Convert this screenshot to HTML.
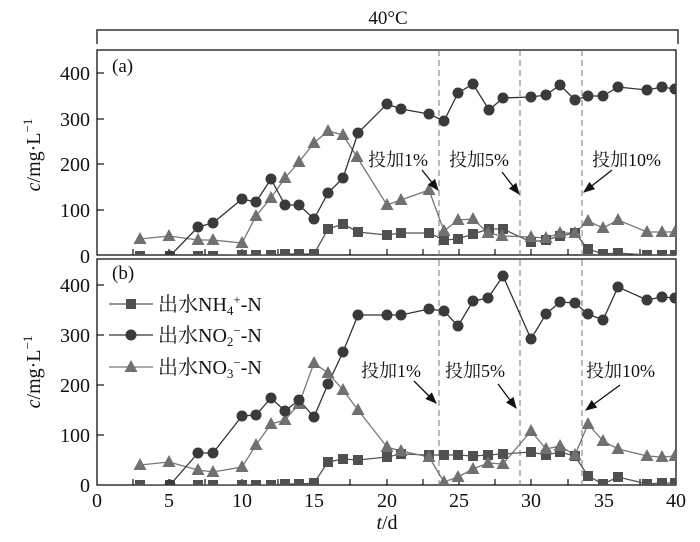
<!DOCTYPE html>
<html><head><meta charset="utf-8"><style>
html,body{margin:0;padding:0;background:#fff}
svg{display:block}
text{font-family:"Liberation Serif","Noto Serif CJK SC",serif;fill:#111}
</style></head><body>
<svg width="700" height="542" viewBox="0 0 700 542" xmlns="http://www.w3.org/2000/svg">
<defs>
<clipPath id="ca"><rect x="97" y="50" width="579" height="205"/></clipPath>
<clipPath id="cb"><rect x="97" y="259" width="579" height="226"/></clipPath>
<marker id="ar" viewBox="0 0 10 10" refX="9" refY="5" markerWidth="9" markerHeight="9" orient="auto"><path d="M0,1 L10,5 L0,9 z" fill="#111"/></marker>
</defs>
<path d="M97,44 V30 H678 V44" fill="none" stroke="#333" stroke-width="1.5"/>
<text x="388" y="24" font-size="19" text-anchor="middle">40°C</text>
<rect x="97" y="50" width="579" height="205" fill="none" stroke="#111" stroke-width="1.3"/>
<rect x="97" y="259" width="579" height="226" fill="none" stroke="#111" stroke-width="1.3"/>
<text x="112" y="72" font-size="19">(a)</text>
<text x="112" y="279" font-size="19">(b)</text>
<g stroke="#777" stroke-width="1" stroke-dasharray="6,4">
<line x1="439" y1="50" x2="439" y2="485"/><line x1="520" y1="50" x2="520" y2="485"/><line x1="582" y1="50" x2="582" y2="485"/>
</g>
<g stroke="#111" stroke-width="1.2">
<line x1="97" y1="73" x2="104" y2="73"/><line x1="97" y1="119" x2="104" y2="119"/><line x1="97" y1="164" x2="104" y2="164"/><line x1="97" y1="210" x2="104" y2="210"/>
<line x1="97" y1="285" x2="104" y2="285"/><line x1="97" y1="335" x2="104" y2="335"/><line x1="97" y1="385" x2="104" y2="385"/><line x1="97" y1="435" x2="104" y2="435"/>
</g>
<g font-size="20" text-anchor="end">
<text x="90" y="80">400</text><text x="90" y="126">300</text><text x="90" y="171">200</text><text x="90" y="217">100</text><text x="90" y="263">0</text>
<text x="90" y="292">400</text><text x="90" y="342">300</text><text x="90" y="392">200</text><text x="90" y="442">100</text><text x="90" y="492">0</text>
</g>
<g stroke="#111" stroke-width="1.2">
<path d="M133,255v-6M169,255v-6M205,255v-6M242,255v-6M278,255v-6M314,255v-6M350,255v-6M387,255v-6M423,255v-6M459,255v-6M495,255v-6M531,255v-6M568,255v-6M604,255v-6M640,255v-6"/>
<path d="M133,485v-6M169,485v-6M205,485v-6M242,485v-6M278,485v-6M314,485v-6M350,485v-6M387,485v-6M423,485v-6M459,485v-6M495,485v-6M531,485v-6M568,485v-6M604,485v-6M640,485v-6"/>
</g>
<g font-size="20" text-anchor="middle">
<text x="97" y="507">0</text><text x="169" y="507">5</text><text x="242" y="507">10</text><text x="314" y="507">15</text><text x="387" y="507">20</text><text x="459" y="507">25</text><text x="531" y="507">30</text><text x="604" y="507">35</text><text x="676" y="507">40</text>
<text x="387" y="529"><tspan font-style="italic">t</tspan>/d</text>
</g>
<text transform="translate(40,155) rotate(-90)" font-size="20" text-anchor="middle"><tspan font-style="italic">c</tspan>/mg·L<tspan dy="-8" font-size="13">−1</tspan></text>
<text transform="translate(40,372) rotate(-90)" font-size="20" text-anchor="middle"><tspan font-style="italic">c</tspan>/mg·L<tspan dy="-8" font-size="13">−1</tspan></text>

<g id="lines"></g>
<g id="marks"></g>

<g font-size="18">
<text x="368" y="166">投加1%</text><text x="449" y="166">投加5%</text><text x="592" y="166">投加10%</text>
<text x="361" y="377">投加1%</text><text x="445" y="377">投加5%</text><text x="586" y="377">投加10%</text>
</g>
<g stroke="#111" stroke-width="1.3" marker-end="url(#ar)">
<line x1="422" y1="170" x2="438" y2="190"/><line x1="502" y1="172" x2="519" y2="194"/><line x1="612" y1="170" x2="584" y2="192"/>
<line x1="414" y1="381" x2="436" y2="403"/><line x1="498" y1="384" x2="516" y2="408"/><line x1="620" y1="385" x2="586" y2="410"/>
</g>

<g stroke-width="1.3">
<line x1="109" y1="304" x2="153" y2="304" stroke="#555"/><rect x="126" y="299" width="10" height="10" fill="#505050"/>
<line x1="109" y1="335" x2="153" y2="335" stroke="#333"/><circle cx="131" cy="335" r="5.5" fill="#3a3a3a"/>
<line x1="109" y1="367" x2="153" y2="367" stroke="#777"/><path d="M131,360 L137.5,372 L124.5,372 Z" fill="#707070"/>
</g>
<g font-size="20">
<text x="158" y="311">出水NH<tspan font-size="13" dy="4">4</tspan><tspan font-size="13" dy="-11">+</tspan><tspan dy="7">-N</tspan></text>
<text x="158" y="342">出水NO<tspan font-size="13" dy="4">2</tspan><tspan font-size="13" dy="-11">−</tspan><tspan dy="7">-N</tspan></text>
<text x="158" y="374">出水NO<tspan font-size="13" dy="4">3</tspan><tspan font-size="13" dy="-11">−</tspan><tspan dy="7">-N</tspan></text>
</g>
</svg>
<script>
(function(){
var NS="http://www.w3.org/2000/svg";
function pts(s){return s.trim().split(/\s+/).map(function(p){return p.split(',').map(Number);});}
var A={sq:"140,256 170,256 198,256 213,256 242,255 256,255 271,255 285,254 299,254 314,254 328,229 343,224 358,232 387,235 401,233 429,233 444,240 458,239 473,234 489,229 503,229 531,242 546,240 560,236 575,233 588,249 603,254 618,253 647,255 662,255 675,255",
tr:"140,239 169,236 198,240 213,240 242,243 256,216 271,198 285,178 299,162 314,143 328,131 343,135 357,157 387,205 401,200 429,190 444,231 458,220 473,219 488,233 502,236 531,237 546,238 560,233 575,233 588,221 603,228 618,220 647,232 662,232 675,232",
ci:"170,256 198,227 213,223 242,199 256,202 271,179 285,205 299,205 314,219 328,193 343,178 358,133 387,104 401,109 429,114 444,121 458,93 473,84 489,110 503,98 531,97 546,95 560,85 575,100 588,96 603,96 618,87 647,90 662,87 675,89"};
var B={sq:"140,485 170,485 198,485 213,485 242,485 256,485 271,485 285,484 299,484 314,483 328,462 343,459 358,460 387,457 401,454 429,455 444,455 458,455 473,456 488,455 503,454 531,452 546,455 560,452 575,456 588,476 603,484 618,477 647,484 662,483 675,483",
tr:"140,465 169,462 198,470 213,472 242,467 256,445 271,424 285,420 299,404 314,363 328,373 343,390 358,410 387,447 401,451 429,457 444,482 458,477 473,469 488,463 503,464 531,431 546,449 560,446 575,455 588,424 603,441 618,449 647,456 662,457 675,456",
ci:"170,485 198,453 213,453 242,416 256,415 271,398 285,411 299,400 314,417 328,384 343,352 358,315 387,315 401,315 429,309 444,311 458,326 473,301 488,298 503,276 531,339 546,314 560,302 575,303 588,314 603,320 618,287 647,300 662,297 675,298"};
var L=document.getElementById('lines'), M=document.getElementById('marks');
function draw(D,clip){
 var gl=document.createElementNS(NS,'g');gl.setAttribute('clip-path','url(#'+clip+')');L.appendChild(gl);
 [['sq','#555'],['tr','#777'],['ci','#333']].forEach(function(k){var p=document.createElementNS(NS,'polyline');p.setAttribute('points',D[k[0]]);p.setAttribute('fill','none');p.setAttribute('stroke',k[1]);p.setAttribute('stroke-width','1.3');gl.appendChild(p);});
 var g=document.createElementNS(NS,'g');g.setAttribute('clip-path','url(#'+clip+')');M.appendChild(g);
 pts(D.sq).forEach(function(p){var r=document.createElementNS(NS,'rect');r.setAttribute('x',p[0]-5);r.setAttribute('y',p[1]-5);r.setAttribute('width',10);r.setAttribute('height',10);r.setAttribute('fill','#505050');g.appendChild(r);});
 pts(D.tr).forEach(function(p){var r=document.createElementNS(NS,'path');r.setAttribute('d','M'+p[0]+','+(p[1]-7)+' L'+(p[0]+6.5)+','+(p[1]+5)+' L'+(p[0]-6.5)+','+(p[1]+5)+' Z');r.setAttribute('fill','#707070');g.appendChild(r);});
 pts(D.ci).forEach(function(p){var r=document.createElementNS(NS,'circle');r.setAttribute('cx',p[0]);r.setAttribute('cy',p[1]);r.setAttribute('r',5.5);r.setAttribute('fill','#3a3a3a');g.appendChild(r);});
}
draw(A,'ca');draw(B,'cb');
})();
</script>
</body></html>
